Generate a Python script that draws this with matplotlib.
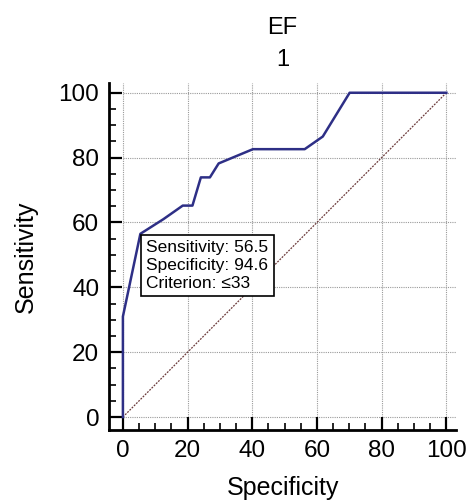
import matplotlib
matplotlib.use("Agg")
import matplotlib.pyplot as plt
from matplotlib.ticker import MultipleLocator

plt.rcParams['font.family'] = ['Liberation Sans', 'DejaVu Sans']

# ROC curve points (100 - specificity, sensitivity)
fpr = [0, 0, 1.8, 5.4, 12.5, 18.5, 21.5, 24.1, 26.9, 29.6, 40.2, 56.2, 61.8, 70.1, 100]
tpr = [0, 31, 39.5, 56.5, 61.0, 65.2, 65.2, 73.9, 73.9, 78.2, 82.6, 82.6, 86.5, 100, 100]
ticks = [0, 20, 40, 60, 80, 100]
box_text = "Sensitivity: 56.5\nSpecificity: 94.6\nCriterion: \u226433"

fig = plt.figure(figsize=(4.69, 5.01), dpi=100)
ax = fig.add_axes([0.2324, 0.1417, 0.740, 0.6926])
ax.set_xlim(-4.3, 103)
ax.set_ylim(-4.0, 103)

# dotted grid only over the data range
for t in ticks:
    ax.plot([t, t], [0, 103], color='#9a9a9a', lw=0.8, ls=(0, (1, 1)), zorder=1)
    ax.plot([0, 103], [t, t], color='#9a9a9a', lw=0.8, ls=(0, (1, 1)), zorder=1)

ax.plot([0, 100], [0, 100], color='#6b3a3a', lw=0.9, ls=(0, (1.5, 1)), zorder=2)
ax.plot(fpr, tpr, color='#2e2f86', lw=1.8, zorder=3)

ax.text(7.2, 54.6, box_text, fontsize=12.5, va='top', ha='left', linespacing=1.25,
        bbox=dict(boxstyle='square,pad=0.3', fc='white', ec='black', lw=1.2), zorder=4)

for s in ['top', 'right']:
    ax.spines[s].set_visible(False)
for s in ['left', 'bottom']:
    ax.spines[s].set_linewidth(2.0)

ax.set_xticks(ticks)
ax.set_yticks(ticks)
ax.xaxis.set_minor_locator(MultipleLocator(5))
ax.yaxis.set_minor_locator(MultipleLocator(5))
ax.tick_params(which='major', direction='in', length=9.5, width=1.6, labelsize=17.5, pad=7)
ax.tick_params(which='minor', direction='in', length=5, width=1.2)

ax.set_xlabel("Specificity", fontsize=18, labelpad=10)
ax.set_ylabel("Sensitivity", fontsize=18, labelpad=15)
ax.set_title("EF\n1", fontsize=17, pad=12, linespacing=1.6)

fig.savefig("out.png", dpi=100)
